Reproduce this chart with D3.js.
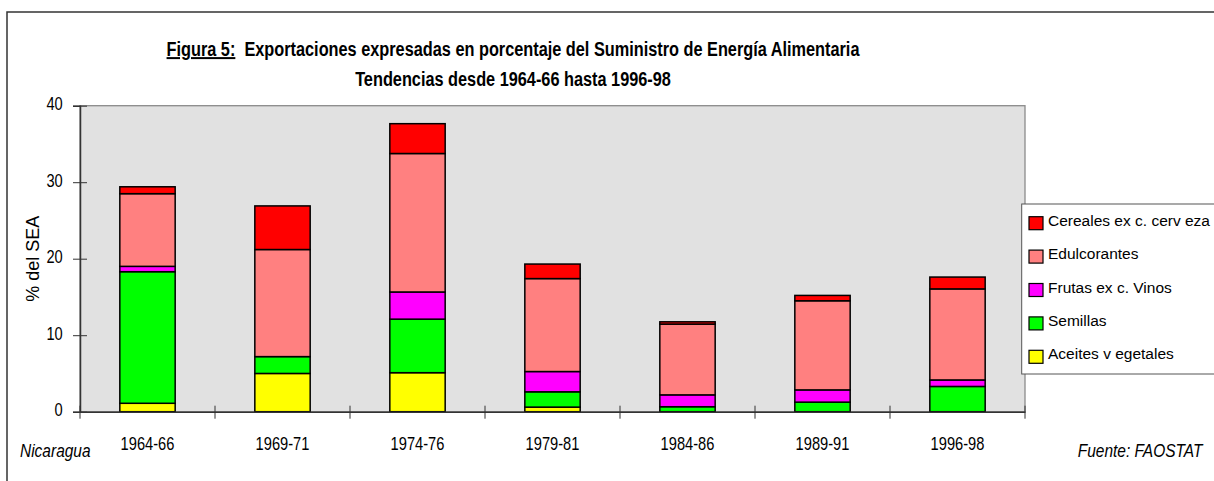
<!DOCTYPE html>
<html lang="es">
<head>
  <meta charset="UTF-8">
  <title>Figura 5</title>
  <script src="https://d3js.org/d3.v7.min.js"></script>
  <style>
    body { margin: 0; background: #fff; }
    svg text { font-family: "Liberation Sans", Arial, sans-serif; fill: #000; }
    .title { font-weight: bold; font-size: 20px; }
    .note { font-style: italic; font-size: 19px; }
  </style>
</head>
<body>
  <svg id="chart" width="1214" height="481"></svg>

  <script>
    const periods = ["1964-66", "1969-71", "1974-76", "1979-81", "1984-86", "1989-91", "1996-98"];
    // stacked bottom to top
    const seriesNames = ["Aceites v egetales", "Semillas", "Frutas ex c. Vinos", "Edulcorantes", "Cereales ex c. cerv eza"];
    const aceites      = [1.1, 5.0, 5.1, 0.6, 0.0, 0.0, 0.0];
    const semillas     = [17.2, 2.2, 7.0, 2.0, 0.65, 1.25, 3.3];
    const frutas       = [0.7, 0.0, 3.55, 2.65, 1.55, 1.6, 0.85];
    const edulcorantes = [9.5, 14.0, 18.1, 12.15, 9.25, 11.65, 11.9];
    const cereales     = [0.9, 5.7, 3.9, 1.9, 0.3, 0.7, 1.55];
    const colors = ["#ffff00", "#00ff00", "#ff00ff", "#ff8080", "#ff0000"];
    const yTicks = [0, 10, 20, 30, 40];

    // the original uses Arial Narrow; squeeze regular glyphs instead
    const NARROW = 0.815;

    const svg = d3.select("#chart");

    // outer frame (its right and bottom sides fall outside the picture)
    svg.append("rect")
      .attr("x", 7).attr("y", 12).attr("width", 1230).attr("height", 500)
      .attr("fill", "none").attr("stroke", "#333").attr("stroke-width", 1.5);

    const plot = { left: 80, right: 1025, top: 105.7, bottom: 411.7 };

    const x = d3.scaleBand().domain(periods).range([plot.left, plot.right]).paddingInner(0.59).paddingOuter(0.295);
    const xEdge = d3.scaleBand().domain(periods).range([plot.left, plot.right]);
    const y = d3.scaleLinear().domain([0, 40]).range([plot.bottom, plot.top]);

    svg.append("rect")
      .attr("x", plot.left).attr("y", plot.top)
      .attr("width", plot.right - plot.left).attr("height", plot.bottom - plot.top)
      .attr("fill", "#e1e1e1").attr("stroke", "#8a8a8a").attr("stroke-width", 1.3);

    const table = periods.map((p, i) => ({
      period: p,
      s0: aceites[i], s1: semillas[i], s2: frutas[i], s3: edulcorantes[i], s4: cereales[i]
    }));
    const stack = d3.stack().keys(["s0", "s1", "s2", "s3", "s4"])(table);

    const layers = svg.append("g").selectAll("g")
      .data(stack).join("g")
      .attr("fill", (d, i) => colors[i]);

    layers.selectAll("rect")
      .data(d => d.filter(v => v[1] - v[0] > 0))
      .join("rect")
      .attr("x", d => x(d.data.period))
      .attr("width", x.bandwidth())
      .attr("y", d => y(d[1]))
      .attr("height", d => y(d[0]) - y(d[1]))
      .attr("stroke", "#000").attr("stroke-width", 1.5);

    // y axis
    const yAxis = svg.append("g")
      .attr("transform", `translate(${plot.left},0)`)
      .call(d3.axisLeft(y).tickValues(yTicks).tickSize(7));
    yAxis.select(".domain").attr("stroke", "#333").attr("stroke-width", 1.5);
    yAxis.selectAll(".tick line").attr("x1", -7).attr("x2", 7).attr("stroke", "#333");
    yAxis.selectAll(".tick text")
      .attr("x", 0).attr("dy", null).attr("y", 0)
      .attr("transform", `translate(-17.3,3.8) scale(${NARROW},1)`)
      .attr("text-anchor", "end")
      .style("font-size", "18px").style("font-family", null);

    // x axis
    const xAxis = svg.append("g")
      .attr("transform", `translate(0,${plot.bottom})`)
      .call(d3.axisBottom(x).tickSize(0));
    xAxis.select(".domain").attr("stroke", "#333").attr("stroke-width", 1.5);
    xAxis.selectAll(".tick text")
      .attr("y", 0).attr("dy", null)
      .attr("transform", `translate(0,38.3) scale(${NARROW},1)`)
      .style("font-size", "18px").style("font-family", null);

    const edges = periods.map(p => xEdge(p)).concat([plot.right]);
    svg.append("g").selectAll("line")
      .data(edges).join("line")
      .attr("x1", d => d).attr("x2", d => d)
      .attr("y1", plot.bottom - 6).attr("y2", plot.bottom + 7)
      .attr("stroke", "#333").attr("stroke-width", 1);

    // y label
    svg.append("text")
      .attr("transform", `translate(39,${(plot.top + plot.bottom) / 2}) rotate(-90)`)
      .attr("text-anchor", "middle")
      .style("font-size", "18px")
      .text("% del SEA");

    // titles
    const t1 = svg.append("text").attr("class", "title")
      .attr("text-anchor", "middle")
      .attr("transform", `translate(513,56) scale(${NARROW},1)`);
    t1.append("tspan").attr("text-decoration", "underline").text("Figura 5:");
    t1.append("tspan").text("\u00a0 Exportaciones expresadas en porcentaje del Suministro de Energía Alimentaria");
    svg.append("text").attr("class", "title")
      .attr("text-anchor", "middle")
      .attr("transform", `translate(513,86) scale(${NARROW},1)`)
      .text("Tendencias desde 1964-66 hasta 1996-98");

    // notes
    svg.append("text").attr("class", "note")
      .attr("transform", `translate(20,457) scale(${NARROW},1)`)
      .text("Nicaragua");
    svg.append("text").attr("class", "note")
      .attr("text-anchor", "end")
      .attr("transform", `translate(1202.5,457) scale(${NARROW},1)`)
      .text("Fuente: FAOSTAT");

    // legend
    const lg = svg.append("g");
    lg.append("rect")
      .attr("x", 1021.7).attr("y", 204).attr("width", 220).attr("height", 170)
      .attr("fill", "#fff").attr("stroke", "#555").attr("stroke-width", 1);
    const order = [4, 3, 2, 1, 0];
    const rows = lg.selectAll("g.row").data(order).join("g")
      .attr("transform", (d, i) => `translate(1029,${225.7 + i * 33.4})`);
    rows.append("rect")
      .attr("x", 0).attr("y", -9).attr("width", 14).attr("height", 13)
      .attr("fill", d => colors[d]).attr("stroke", "#000").attr("stroke-width", 1.2);
    rows.append("text")
      .attr("x", 19).attr("y", 0)
      .style("font-size", "15.5px")
      .text(d => seriesNames[d]);
  </script>
</body>
</html>
